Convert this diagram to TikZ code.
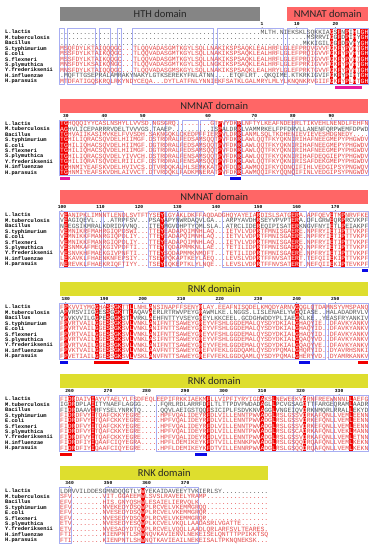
\documentclass[tikz,border=0pt]{standalone}
\usepackage{fontspec}
\setsansfont{Carlito}
\newfontfamily\seqfont{Liberation Mono}
\definecolor{hthgray}{HTML}{858585}
\definecolor{nmnatred}{HTML}{FF6666}
\definecolor{rnkyellow}{HTML}{DEDE2E}
\definecolor{simblue}{HTML}{A8AEF2}
\definecolor{seqred}{HTML}{E64848}
\definecolor{seqgray}{HTML}{555555}
\definecolor{consred}{HTML}{F00000}
\definecolor{motifmag}{HTML}{E8189C}
\definecolor{markblue}{HTML}{0A0AE6}
\definecolor{markred}{HTML}{F20000}

\tikzset{
  domainbar/.style={anchor=north west, minimum height=14pt, inner sep=0pt,
    font=\sffamily\fontsize{10.5}{12}\selectfont, text=black!85},
  rulernum/.style={inner sep=0pt, font=\seqfont\bfseries\fontsize{4.6}{5}\selectfont},
  speclab/.style={anchor=west, inner sep=0pt, text height=3.5pt, text depth=0pt,
    font=\seqfont\bfseries\fontsize{5.3}{6}\selectfont},
  seqrow/.style={anchor=west, inner sep=0pt, text height=4.2pt, text depth=0pt,
    font=\seqfont\fontsize{6.42}{7}\selectfont},
  simbox/.style={draw=simblue, line width=0.7pt},
}

% residues in conserved columns are set in white
\makeatletter
\newcount\seqcol
\newcommand{\paintseq}[1]{\seqcol=0 \paint@seq#1\relax}
\def\paint@seq#1{\ifx#1\relax\else\paint@one{#1}\advance\seqcol by 1 \expandafter\paint@seq\fi}
\def\paint@one#1{\edef\paint@tmp{\noexpand\in@{,\the\seqcol,}{\conslist}}%
  \paint@tmp\ifin@{\color{white}#1}\else#1\fi}
\makeatother

% species names of one block
\newcommand{\speclist}[1]{\foreach \nm [count=\i from 0] in \specs
  {\node[speclab] (#1-n\i) at (5,{25+\i*\rh}) {\nm};}}
% one aligned sequence: row, colour, residues
\newcommand{\sqline}[3]{\node[seqrow, text=#2] (\blk-s#1) at (\sx,{25+#1*\rh}) {\paintseq{#3}};}
% strictly conserved columns (red background)
\newcommand{\conscols}[1]{\def\conslist{,#1,}\foreach \col in {#1}
  {\fill[consred] ({\sx+\col*\cw},22.3) rectangle ++(\cw,54.45);}}
% numbering above the alignment
\newcommand{\ruler}[2]{\foreach \num/\col in {#2}{
  \node[rulernum] (#1-r\num) at ({\sx+(\col+0.5)*\cw},17.2) {\num};
  \fill ({\sx+(\col+0.5)*\cw},20.4) circle (0.35);}}

\begin{document}
\begin{tikzpicture}[x=1pt,y=-1pt]
  \def\sx{60}    % x of first alignment column
  \def\cw{3.85}  % column width
  \def\rh{5.45}  % row spacing
  \def\specs{L.lactis,M.tuberculosis,Bacillus,S.typhimurium,E.coli,S.flexneri,S.plymuthica,Y.frederiksenii,H.influenzae,H.parasuis}
  \fill[white] (0,0) rectangle (374,550);
  \useasboundingbox (0,0) rectangle (374,550);

  % block 1
  \begin{scope}[shift={(0,7)}]
    \def\blk{b1}
    \node[domainbar, fill=hthgray, minimum width=200pt] (hth) at (60,0) {HTH domain};
    \node[domainbar, fill=nmnatred, minimum width=81pt] (nmnat1) at (287,0) {NMNAT domain};
    \ruler{b1}{1/52,10/61,20/71}
    \speclist{b1}
    \foreach \xa/\xb in {59/64,67/95,99/110,117/121,132/213,217/283,287/307,315/368}
      \draw[simbox] (\xa,21.5) rectangle (\xb,77);
    \conscols{70,72,74,76,78,79}
    \sqline{0}{seqgray}{....................................................MLTH.NIEKSKLSQKKIAGSFNPIHLGH}
    \sqline{1}{seqgray}{................................................................MSRRVIGGFDPIHYGH}
    \sqline{2}{seqgray}{...............................................................MKKIGILGGFDPVHYGH}
    \sqline{3}{seqred}{MSQFDYLKTAIQQQGC...TLQQVADASGMTKGYLSQLLNAKIKSPSAQKLEALHRFLGLEFPRQVGVVFGKFYPVHTGH}
    \sqline{4}{seqred}{MSSFDYLKTAIKQQGC...TLQQVADASGMTKGYLSQLLNAKIKSPSAQKLEALHRFLGLEFPRQIGVVFGKFYPVHTGH}
    \sqline{5}{seqred}{MSSFDYLKTAIKQQGC...TLQQVADASGMTKGYLSQLLNAKIKSPSAQKLEALHRFLGLEFPRQIGVVFGKFYPVHTGH}
    \sqline{6}{seqred}{MNSFDYLKSAIKQNGC...TLQQVADASGMTKGYLSQLLNGKIKSPSAQKLEALHRFLGLEFPRKIGVVFGKFYPVHTGH}
    \sqline{7}{seqred}{MNSFDYLKTAIQQQGC...TLQQVADASGMSKGYLSQLLNAKIKSPSAQKLEALHRYLGLEFPRKTGVVFGKFYPVHTGH}
    \sqline{8}{seqgray}{.MQFTTGSEPRALAMRAKYNAKYLGTKSEREKYFNLATNN....ETQFLRT..QKQIME.KTKRKIGVIFGKFYPIHTGH}
    \sqline{9}{seqred}{MTDFATIGQSKRQLRKYNDYCEQA...DYTLATFNLYNNIEKFSATKLGALMRYLMLYLKNQNKRVGIIFGKFYPLHTGH}
    \fill[motifmag] (335,78.5) rectangle (362,81.5);
  \end{scope}

  % block 2
  \begin{scope}[shift={(0,98.5)}]
    \def\blk{b2}
    \node[domainbar, fill=nmnatred, minimum width=308pt] (nmnat2) at (60,0) {NMNAT domain};
    \ruler{b2}{30/1,40/11,50/21,60/38,70/50,80/60,90/70}
    \speclist{b2}
    \foreach \xa/\xb in {59/152,152/165,165/178,182/198,200/214,224/236,241/292,294/368}
      \draw[simbox] (\xa,21.5) rectangle (\xb,77);
    \conscols{0,1,41,46}
    \sqline{0}{seqred}{TGHQQQIYYCASLNSHYLLVVSD.NGSGRQ.........GTPVYDKRLNFTYLKEAFNDEERLTIKVEHLNENDLFEHFN}
    \sqline{1}{seqgray}{AGHVLICEPARRRVDELTVVVGS.TAAEP..........ISPALDRRLVAMMRKELFPFDRVLLANENFQRPWEMFDPWD}
    \sqline{2}{seqred}{TGHVAIIKASIMVKELFVVSDH.SAKNGQKLCKEDPFFIERPVLDRRLANMLSQLTKDHENIEVIEVESHDGNEDY....}
    \sqline{3}{seqred}{TGHILIQRACSQVDELHIIMGF.DSTRDRALFEDSAMSQQTPVFDKRLAWLQQTFKYQKNIRIHAFNEEGMEPYPHGWDV}
    \sqline{4}{seqred}{TGHILIQHACSQVDELHIIMGF.DGTRDRALFEDSAMSQQTPVFDKRLAWLQQTFKYQKNIRIHAFNEEGMEPYPHGWDV}
    \sqline{5}{seqred}{TGHILIQHACSQVDELHIIMGF.DGTRDRALFEDSAMSQQTPVFDKRLAWLQQTFKYQKNIRIHAFNEEGMEPYPHGWDV}
    \sqline{6}{seqred}{TGHILIQRACSQVDELYIVVCH.DSTRDRALFENSAMSQQTPVFDKRLAWLQQTFKYQKNIRIHAFDEQGIEPYPHGWDV}
    \sqline{7}{seqred}{TGHILIQRATSQVDELRIILCF.DSTRDRALFENSAMSQQTPVFDKRLAWLQQTFKYQKNIRISAFDEKGMEPYPHGWDV}
    \sqline{8}{seqred}{TGHNMIYEAFSKVDELHVIVCS.DTVRDQKALHLSEMKKATPVFDQRLAWMQQIFKYQDNQIFIHLVEDGIPSYPNGWQV}
    \sqline{9}{seqred}{TGHNMIYEAFSKVDHLAIVVCT.DTVRDQKLFADKMNERATPVFDKRLAWMQQIFKYQQNQIFINLVEDGIPSYPNGWDV}
    \fill[motifmag] (60,78.5) rectangle (70,81.5);
    \fill[markblue] (230,78.5) rectangle (241,81.5);
  \end{scope}

  % block 3
  \begin{scope}[shift={(0,190)}]
    \def\blk{b3}
    \node[domainbar, fill=nmnatred, minimum width=308pt] (nmnat3) at (60,0) {NMNAT domain};
    \ruler{b3}{100/0,110/10,120/20,130/30,140/40,150/51,160/61,170/71}
    \speclist{b3}
    \foreach \xa/\xb in {59/66,66/85,85/101,103/123,148/165,166/177,178/195,195/203,222/306,309/368}
      \draw[simbox] (\xa,21.5) rectangle (\xb,77);
    \conscols{1,26,51,60,61,70,73}
    \sqline{0}{seqred}{VEANIPKLIMNNTLENDLSVTFTYSEYLGYAKLDKFFAQDADGHQYAYEIARDISLSATGERA.APFQEVETMPNRVFKE}
    \sqline{1}{seqgray}{VEAGIQEVL....ATRPFSV...PSAYAPYNWRDAQVLGA...ARPYAVDHRSEYVPVPTERA.DFLGRWEQRPRCVKPF}
    \sqline{2}{seqgray}{NEEGSIKMRALKDRIDVVNQ...ITEYMGVDHPTYQMLSLA..ATRCLIDEREQIPISATERKNGVFNYIETLPEIAKPF}
    \sqline{3}{seqred}{VEMNIKRFMAHRGIQPDSWI...TTEYEADAPQIMNHLAQ...IETVLVDPRTFMNISGAERE.NPFRYIETIPTTVKPF}
    \sqline{4}{seqred}{VEMNIKKFMANRGIQPDLIY...TTEYEADAPQIMNHLAQ...IETVLVDPRTFMNISGAERE.NPFRYIETIPTTVKPF}
    \sqline{5}{seqred}{VEMNIKKFMANRGIQPDLIY...TTEYEADAPQIMNHLAQ...IETVLVDPRTFMNISGAERE.NPFRYIETIPTTVKPF}
    \sqline{6}{seqred}{VESNMKAFMEQKGIVPDFTI...TTEYTQDAPMMKNLLAE...TETILIDPRTFMNISGAERQ.NPFRYIETIPTTVKPF}
    \sqline{7}{seqred}{VESNVKHFMAEKGIVPNFTI...TTEYSQDAPMMKNMQFT...TETILIDPRTFMNISGAERE.NPFRYIETIPTTVKPF}
    \sqline{8}{seqred}{LEKAVKLFHAENKNFEPSIY...TSEYPQKAPTKEYLAEQ...LEVSLVDPRTFFNVSATERT.TEFQIIEKIPTTVKPF}
    \sqline{9}{seqred}{NEREVKLFHAEKRIQFTIYY...TSEYIQKEPTKLYLNQE...LEVSLVDPRTFFNVSATERT.NEFQIIEKIPTEVKPF}
    \fill[markblue] (362,78.5) rectangle (368,81.5);
  \end{scope}

  % block 4
  \begin{scope}[shift={(0,282)}]
    \def\blk{b4}
    \node[domainbar, fill=rnkyellow, minimum width=308pt] (rnk4) at (60,0) {RNK domain};
    \ruler{b4}{180/1,190/11,200/21,210/31,220/41,230/51,240/61,250/71}
    \speclist{b4}
    \foreach \xa/\xb in {59/312,313/325,328/368}
      \draw[simbox] (\xa,21.5) rectangle (\xb,77);
    \conscols{1,9,12,14,15,18,23,36,61}
    \sqline{0}{seqred}{FPKVVIYMGGHASSGKTTLLNHLANSINAPFFSENYRLAY.EEAFNISQDELKMQDYARNVGQGLQTDAMNSYVMSPANQ}
    \sqline{1}{seqgray}{APVRSVIIGGESSGGKTTLAQAVAERLRTRWVPEYGRAWMLKE.LNGGS.LISLENAELYWGQIASE..HALADADRVLV}
    \sqline{2}{seqgray}{YPVKVVILGGPESGGKSTLVRKLAEHFNTTYVSEYGREYLKKCEEL.GCDGHWDDYPLIAEGKLKE..YEASFRYANKIV}
    \sqline{3}{seqred}{FPVRTVAILGGESSGKSVLVNKLANIFNTTSAWEYGREYVFSHLGGDEMALQYSDYDKIALGHAQYIE..DFAVKYANKV}
    \sqline{4}{seqred}{FPVRTVAILGGESSGKSVLVNKLANIFNTTSAWEYGREYVFSHLGGDEMALQYSDYDKIALGHAQYID..DFAVKYANKV}
    \sqline{5}{seqred}{FPVRTVAILGGESSGKSVLVNKLANIFNTTSAWEYGREYVFSHLGGDEMALQYSDYDKIALGHAQYID..DFAVKYANKV}
    \sqline{6}{seqred}{FPVRTVAILGGESSGKSVLVNKLASIFNTTSAWEYGREYVFSHLGGDEMALQYSDYDKIALGQAQYVD..DFAVKYANKV}
    \sqline{7}{seqred}{FPVRTVAILGGESSGKSVLVNKLANIFNTTSAWEYGREYVFEHLGGDEMALQYSDYDKIALGQAQYVE..DFAVKYANKV}
    \sqline{8}{seqred}{FPVKTVAILGGESSGKSVLVNKLAAVFNTTSAWEYGREFVFEKLGGDQAMLQYSDYPQMALGHQRYID..DYAVRHSNKI}
    \sqline{9}{seqred}{FPVETIAILGGESSGKSVLVSKLANVFNTTSAWEYGREFVFEKLGGDQAMLQYSDYPQMALGHERYVD..DYAMRKANKV}
    \fill[markblue] (60,78.5) rectangle (68,81.5);
    \fill[markred] (94,78.5) rectangle (129,81.5);
    \fill[markblue] (299,78.5) rectangle (310,81.5);
    \fill[markred] (358,78.5) rectangle (368,81.5);
  \end{scope}

  % block 5
  \begin{scope}[shift={(0,374)}]
    \def\blk{b5}
    \node[domainbar, fill=rnkyellow, minimum width=308pt] (rnk5) at (60,0) {RNK domain};
    \ruler{b5}{260/2,270/12,280/22,290/32,300/42,310/52,320/62,330/72}
    \speclist{b5}
    \foreach \xa/\xb in {59/134,156/293,293/313,315/333,333/368}
      \draw[simbox] (\xa,21.5) rectangle (\xb,77);
    \conscols{2,3,8,38,52,55,63,75}
    \sqline{0}{seqred}{FIDRDAIVIAYVTAELYLFSDFEQLEEPIFRKKIAEKMFLLVIPFIYRYIGDAKSLNEWEEKVDRNFREEWNNNLLAEFG}
    \sqline{1}{seqgray}{IGDRDPLAIITYNAEFLAGGG.....FQRLRDLARRFDFLTLTTPDVPWDADAGLLPCVGSAGDTTFARGEQRAMLAADR}
    \sqline{2}{seqgray}{FIDRDAAVIRFYSELYNRKTQ.....QQVLAEIGSTQQFSICIPLFSDVKNVAGGLVNGEIQVDRKNMQRLRRALLEKYD}
    \sqline{3}{seqred}{FIDRDFVYITQAFCKKYEGRE.....HPFVQALIDEYRFDLVILLENNTPWVADGLRSLGSSVDRKAFQNLLVEMLEENN}
    \sqline{4}{seqred}{FIDRDFVYITQAFCKKYEGRE.....HPFVQALIDEYRFDLVILLENNTPWVADGLRSLGSSVDRKEFQNLLVEMLEENN}
    \sqline{5}{seqred}{FIDRDFVYITQAFCKKYEGRE.....HPFVQALIDEYRFDLVILLENNTPWVADGLRSLGSSVDRKEFQNLLVEMLEENN}
    \sqline{6}{seqred}{FIDRDFVYITQAFCKKYEGRE.....HPFVQALIDEYRFDLVILLENNTPWVADGLRSLGSCADRKAFQNLLVEKLMANN}
    \sqline{7}{seqred}{FIDRDFVYITQAFCKKYEGRE.....HPFVQALIDEYRFDLVILLENNTPWVADGLRSLGSSVDRKAFQNLLVEMLETNN}
    \sqline{8}{seqred}{FIDRDFIYIQAAFCIQYEGRA.....HPFLDEMIKEYKFDTVILLENNKPWVADGLRSLGSQQDRQAFQNLLVEMLKEKN}
    \sqline{9}{seqred}{FIDRDFIYIQAAFCIQYEGRE.....HPFLDEMIKEYKFDTVILLENNRPWVADGLRSLGSQQDRQAFQNLLVEMLKEKN}
    \fill[markred] (60,78.5) rectangle (72,81.5);
    \fill[markblue] (195,78.5) rectangle (207,81.5);
  \end{scope}

  % block 6
  \begin{scope}[shift={(0,466)}]
    \def\blk{b6}
    \node[domainbar, fill=rnkyellow, minimum width=208pt] (rnk6) at (60,0) {RNK domain};
    \ruler{b6}{340/2,350/12,360/22,370/32}
    \speclist{b6}
    \foreach \xa/\xb in {59/71,105/124,124/198}
      \draw[simbox] (\xa,21.5) rectangle (\xb,77);
    \conscols{21}
    \sqline{0}{seqgray}{LDRVVILDDESGMNDQQGTLYWYEKAIDAVEEYTVKIERLSY............}
    \sqline{1}{seqred}{SFV........VIT.GGAEEMWLSVSLRAVEELYRAMP................}
    \sqline{2}{seqred}{EFV........HIS.GNYQSHWLESAIELIERVQLK..................}
    \sqline{3}{seqred}{EFV........NVEKEDYDSQWPLRCVELVKEMMGRQQ................}
    \sqline{4}{seqred}{EFV........NVESEDYDSQWPLRCVELVKEMMGRQR................}
    \sqline{5}{seqred}{EFV........NVESEDYDSQWPLRCVELVKEMMGRQR................}
    \sqline{6}{seqred}{ETV........NVESEDYESQWPLKCVELVKQLLAADASRLVGATTE.......}
    \sqline{7}{seqred}{ETV........NVESADYDTQWPLRCVELVQQLLAADLQRLARFSVLTEARES.}
    \sqline{8}{seqred}{FTI........KIENPNTLSHWNQVKAVIENVLNEKEISELQNTTTPPIKKTSQ}
    \sqline{9}{seqred}{FTI........KIENPNTLSHWNQTKAVIEAILNEKEISALTPKNQNEKSK...}
  \end{scope}
\end{tikzpicture}
\end{document}
